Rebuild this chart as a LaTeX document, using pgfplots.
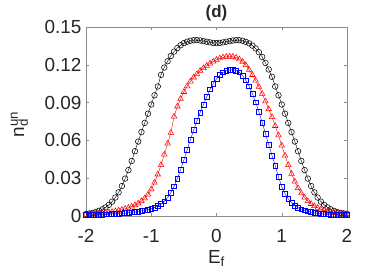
\documentclass[border=0pt]{standalone}
\usepackage{fontspec}
\setmainfont{Liberation Sans}
\usepackage{pgfplots}
\pgfplotsset{compat=1.18}
\usepackage{pgfplotstable}

\pgfplotstableread{
x k r b
-2.00 0.0016 0.0012 0.0008
-1.95 0.0020 0.0013 0.0008
-1.90 0.0025 0.0015 0.0009
-1.85 0.0032 0.0017 0.0010
-1.80 0.0041 0.0019 0.0011
-1.75 0.0053 0.0022 0.0012
-1.70 0.0068 0.0025 0.0013
-1.65 0.0088 0.0029 0.0014
-1.60 0.0114 0.0033 0.0016
-1.55 0.0147 0.0038 0.0017
-1.50 0.0188 0.0044 0.0019
-1.45 0.0238 0.0050 0.0021
-1.40 0.0297 0.0057 0.0023
-1.35 0.0364 0.0065 0.0026
-1.30 0.0437 0.0075 0.0029
-1.25 0.0514 0.0086 0.0032
-1.20 0.0591 0.0100 0.0036
-1.15 0.0666 0.0118 0.0040
-1.10 0.0739 0.0140 0.0045
-1.05 0.0812 0.0170 0.0051
-1.00 0.0885 0.0212 0.0058
-0.95 0.0958 0.0265 0.0067
-0.90 0.1028 0.0330 0.0079
-0.85 0.1120 0.0405 0.0095
-0.80 0.1178 0.0488 0.0117
-0.75 0.1228 0.0575 0.0146
-0.70 0.1270 0.0660 0.0185
-0.65 0.1305 0.0790 0.0236
-0.60 0.1333 0.0870 0.0297
-0.55 0.1355 0.0930 0.0368
-0.50 0.1372 0.0985 0.0445
-0.45 0.1383 0.1030 0.0525
-0.40 0.1391 0.1068 0.0605
-0.35 0.1395 0.1100 0.0682
-0.30 0.1396 0.1128 0.0754
-0.25 0.1393 0.1152 0.0822
-0.20 0.1388 0.1174 0.0885
-0.15 0.1383 0.1193 0.0945
-0.10 0.1378 0.1210 0.1005
-0.05 0.1374 0.1226 0.1050
0.00 0.1372 0.1240 0.1088
0.05 0.1374 0.1251 0.1118
0.10 0.1378 0.1259 0.1140
0.15 0.1383 0.1264 0.1152
0.20 0.1388 0.1266 0.1159
0.25 0.1393 0.1264 0.1160
0.30 0.1396 0.1257 0.1155
0.35 0.1395 0.1244 0.1140
0.40 0.1391 0.1225 0.1114
0.45 0.1382 0.1198 0.1077
0.50 0.1370 0.1160 0.1030
0.55 0.1352 0.1120 0.0972
0.60 0.1330 0.1075 0.0903
0.65 0.1300 0.1025 0.0826
0.70 0.1262 0.0970 0.0742
0.75 0.1215 0.0910 0.0655
0.80 0.1163 0.0848 0.0567
0.85 0.1105 0.0785 0.0481
0.90 0.1028 0.0715 0.0400
0.95 0.0958 0.0640 0.0310
1.00 0.0885 0.0560 0.0235
1.05 0.0812 0.0480 0.0178
1.10 0.0739 0.0405 0.0136
1.15 0.0666 0.0335 0.0105
1.20 0.0591 0.0274 0.0082
1.25 0.0514 0.0222 0.0066
1.30 0.0437 0.0180 0.0054
1.35 0.0364 0.0146 0.0045
1.40 0.0297 0.0118 0.0038
1.45 0.0238 0.0096 0.0031
1.50 0.0188 0.0079 0.0025
1.55 0.0147 0.0065 0.0021
1.60 0.0114 0.0054 0.0018
1.65 0.0088 0.0045 0.0015
1.70 0.0068 0.0038 0.0013
1.75 0.0053 0.0032 0.0011
1.80 0.0041 0.0027 0.0010
1.85 0.0032 0.0023 0.0009
1.90 0.0025 0.0020 0.0008
1.95 0.0020 0.0017 0.0007
2.00 0.0016 0.0015 0.0007
}\datatable

\definecolor{axgray}{gray}{0.55}
\definecolor{txt}{gray}{0.15}

\begin{document}
\begin{tikzpicture}[x=1bp,y=1bp]
\useasboundingbox (0,0) rectangle (382,276);
\begin{axis}[
  at={(86bp,60bp)}, anchor=south west,
  scale only axis, width=261bp, height=189bp,
  xmin=-2, xmax=2, ymin=0, ymax=0.15,
  xtick={-2,-1,0,1,2}, xticklabels={{-2},{-1},{0},{1},{2}},
  ytick={0,0.03,0.06,0.09,0.12,0.15},
  yticklabels={{0},{0.03},{0.06},{0.09},{0.12},{0.15}},
  tick align=inside, major tick length=3bp,
  tick style={axgray, line width=0.5pt},
  axis line style={axgray, line width=0.6pt},
  every tick label/.append style={font=\fontsize{19}{21}\selectfont, text=txt},
  xticklabel style={yshift=-10bp},
  yticklabel style={xshift=-1bp},
  title={\bfseries (d)},
  title style={font=\fontsize{17}{19}\selectfont, text=txt, yshift=-4bp},
  xlabel={E\textsubscript{f}},
  ylabel={n\rlap{\textsuperscript{un}}\textsubscript{d}},
  label style={font=\fontsize{19}{21}\selectfont, text=txt},
  xlabel style={at={(axis description cs:0.5,-0.225)}, anchor=center},
  ylabel style={at={(axis description cs:-0.255,0.466)}, anchor=center},
]
\addplot[black, line width=0.4pt, mark=o, mark size=2.8bp, mark options={line width=0.55pt}] table[x=x, y=k] {\datatable};
\addplot[red, line width=0.4pt, mark=triangle, mark size=3.2bp, mark options={line width=0.55pt}] table[x=x, y=r] {\datatable};
\addplot[blue, line width=0.4pt, mark=square, mark size=2.4bp, mark options={line width=0.55pt}] table[x=x, y=b] {\datatable};
\end{axis}
\end{tikzpicture}
\end{document}
